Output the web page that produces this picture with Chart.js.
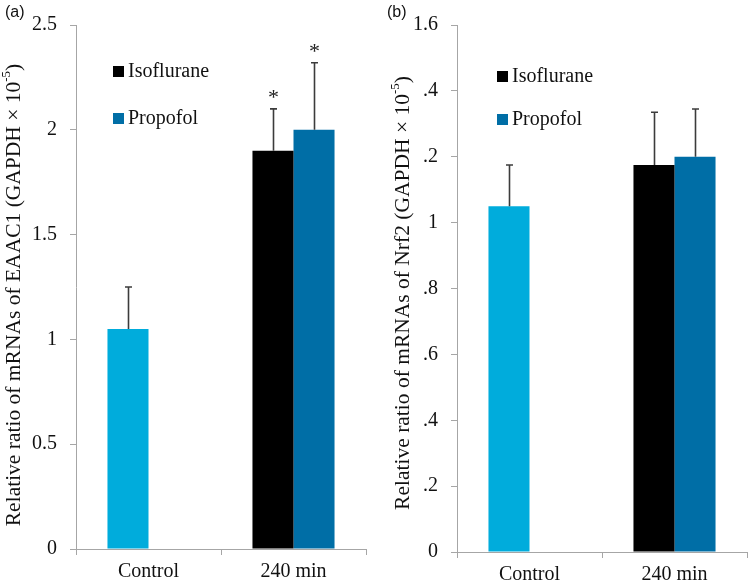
<!DOCTYPE html>
<html><head><meta charset="utf-8">
<script src="https://cdn.jsdelivr.net/npm/chart.js@4"></script>
<style>
html,body{margin:0;padding:0;background:#fff;}
#wrap{position:relative;width:750px;height:583px;overflow:hidden;background:#fff;}
.panel{position:absolute;top:0;width:375px;height:583px;}
canvas{display:block;}
</style></head><body>
<div id="wrap">
<div class="panel" style="left:0"><canvas id="ca" width="375" height="583"></canvas></div>
<div class="panel" style="left:375px"><canvas id="cb" width="375" height="583"></canvas></div>
</div>
<script>
// ---------- DATA ----------
const categories = ['Control', '240 min'];
const seriesNames = ['Control', 'Isoflurane', 'Propofol'];
const legendNames = ['Isoflurane', 'Propofol'];
const panelLetters = ['(a)', '(b)'];

// Panel (a): EAAC1
const eaacControl = [1.05, null];
const eaacIsoflurane = [null, 1.90];
const eaacPropofol = [null, 2.00];
const eaacControlErr = [0.20, null];
const eaacIsofluraneErr = [null, 0.20];
const eaacPropofolErr = [null, 0.32];
const eaacIsofluraneSig = [false, true];
const eaacPropofolSig = [false, true];
const eaacTickValues = [0, 0.5, 1, 1.5, 2, 2.5];
const eaacTickLabels = ['0', '0.5', '1', '1.5', '2', '2.5'];
const eaacTitle = ['Relative ratio of mRNAs of EAAC1 (GAPDH \u00d7 10', '-5', ')'];

// Panel (b): Nrf2
const nrfControl = [1.05, null];
const nrfIsoflurane = [null, 1.175];
const nrfPropofol = [null, 1.20];
const nrfControlErr = [0.125, null];
const nrfIsofluraneErr = [null, 0.16];
const nrfPropofolErr = [null, 0.145];
const nrfIsofluraneSig = [false, false];
const nrfPropofolSig = [false, false];
const nrfTickValues = [0, 0.2, 0.4, 0.6, 0.8, 1, 1.2, 1.4, 1.6];
const nrfTickLabels = ['0', '.2', '.4', '.6', '.8', '1', '.2', '.4', '1.6'];
const nrfTitle = ['Relative ratio of mRNAs of Nrf2 (GAPDH \u00d7 10', '-5', ')'];

// ---------- STYLE ----------
const COL_CONTROL = '#00acdc';
const COL_ISO = '#000000';
const COL_PRO = '#006ea6';
const AXIS_COL = '#a6a6a6';
const SERIF = '"Liberation Serif", "Times New Roman", serif';

function makeChart(canvasId, cfg) {
  const errPlugin = {
    id: 'errbars',
    afterDatasetsDraw(chart) {
      const ctx = chart.ctx;
      const y = chart.scales.y;
      ctx.save();
      ctx.strokeStyle = '#3c3c3c';
      ctx.lineWidth = 1.6;
      chart.data.datasets.forEach((ds, di) => {
        const meta = chart.getDatasetMeta(di);
        ds.data.forEach((v, i) => {
          if (v == null || ds.err[i] == null) return;
          const el = meta.data[i];
          const top = y.getPixelForValue(v + ds.err[i]);
          const x = Math.round(el.x) + 0.5;
          ctx.beginPath();
          ctx.moveTo(x, el.y);
          ctx.lineTo(x, top);
          ctx.moveTo(x - 3.5, top);
          ctx.lineTo(x + 3.5, top);
          ctx.stroke();
          if (ds.sig && ds.sig[i]) {
            ctx.fillStyle = '#222';
            ctx.font = '22px ' + SERIF;
            ctx.textAlign = 'center';
            ctx.textBaseline = 'alphabetic';
            ctx.fillText('*', x, top - 5);
          }
        });
      });
      ctx.restore();
    }
  };
  const decoPlugin = {
    id: 'deco',
    afterDraw(chart) {
      const ctx = chart.ctx;
      ctx.save();
      // panel letter
      ctx.fillStyle = '#111';
      ctx.font = '16px "Liberation Sans", Arial, sans-serif';
      ctx.textAlign = 'left';
      ctx.textBaseline = 'alphabetic';
      ctx.fillText(cfg.letter, cfg.letterX, 17);
      // legend
      const items = chart.data.datasets.filter(d => legendNames.includes(d.label));
      items.forEach((d, k) => {
        const sy = cfg.legY[k];
        ctx.fillStyle = d.backgroundColor;
        ctx.fillRect(cfg.legX, sy, 11, 11);
        ctx.fillStyle = '#111';
        ctx.font = '20px ' + SERIF;
        ctx.textAlign = 'left';
        ctx.textBaseline = 'alphabetic';
        ctx.fillText(d.label, cfg.legX + 15, sy + 11);
      });
      // y title with superscript
      const [main, sup, tail] = cfg.title;
      const mainFont = '21.5px ' + SERIF;
      const supFont = '13px ' + SERIF;
      ctx.font = mainFont;
      const w1 = ctx.measureText(main).width;
      const w3 = ctx.measureText(tail).width;
      ctx.font = supFont;
      const w2 = ctx.measureText(sup).width;
      const total = w1 + w2 + w3;
      ctx.translate(cfg.titleX, cfg.titleY);
      ctx.rotate(-Math.PI / 2);
      ctx.fillStyle = '#111';
      ctx.textAlign = 'left';
      ctx.textBaseline = 'middle';
      let x0 = -total / 2;
      ctx.font = mainFont;
      ctx.fillText(main, x0, 0);
      ctx.font = supFont;
      ctx.fillText(sup, x0 + w1, -7);
      ctx.font = mainFont;
      ctx.fillText(tail, x0 + w1 + w2, 0);
      ctx.restore();
    }
  };
  return new Chart(document.getElementById(canvasId), {
    type: 'bar',
    data: {
      labels: categories,
      datasets: [
        { label: seriesNames[0], data: cfg.control, err: cfg.controlErr, backgroundColor: COL_CONTROL, stack: 's1' },
        { label: seriesNames[1], data: cfg.iso, err: cfg.isoErr, sig: cfg.isoSig, backgroundColor: COL_ISO, stack: 's1' },
        { label: seriesNames[2], data: cfg.pro, err: cfg.proErr, sig: cfg.proSig, backgroundColor: COL_PRO, stack: 's2' }
      ]
    },
    options: {
      responsive: false,
      animation: false,
      devicePixelRatio: 1,
      categoryPercentage: 0.566,
      barPercentage: 1.0,
      layout: { padding: { left: 0, right: cfg.padRight, top: cfg.padTop, bottom: 0 } },
      plugins: { legend: { display: false }, tooltip: { enabled: false }, title: { display: false } },
      scales: {
        x: {
          grid: { display: true, drawOnChartArea: false, drawTicks: true, tickLength: 6, color: AXIS_COL, offset: true },
          border: { display: true, color: AXIS_COL, width: 1 },
          ticks: { color: '#111', font: { family: SERIF, size: 20 }, padding: 5 },
          afterFit(s) { s.height = cfg.xHeight; }
        },
        y: {
          stacked: false,
          min: 0,
          max: cfg.tickValues[cfg.tickValues.length - 1],
          afterBuildTicks(s) { s.ticks = cfg.tickValues.map(v => ({ value: v })); },
          grid: { display: true, drawOnChartArea: false, drawTicks: true, tickLength: 6, color: AXIS_COL },
          border: { display: true, color: AXIS_COL, width: 1 },
          ticks: {
            color: '#111', font: { family: SERIF, size: 20 }, padding: 13,
            callback(v) { const k = cfg.tickValues.findIndex(t => Math.abs(t - v) < 1e-9); return k >= 0 ? cfg.tickLabels[k] : ''; }
          },
          afterFit(s) { s.width = cfg.yWidth; }
        }
      }
    },
    plugins: [errPlugin, decoPlugin]
  });
}

makeChart('ca', {
  control: eaacControl, iso: eaacIsoflurane, pro: eaacPropofol,
  controlErr: eaacControlErr, isoErr: eaacIsofluraneErr, proErr: eaacPropofolErr,
  isoSig: eaacIsofluraneSig, proSig: eaacPropofolSig,
  tickValues: eaacTickValues, tickLabels: eaacTickLabels, title: eaacTitle,
  letter: panelLetters[0], letterX: 5,
  legX: 113, legY: [66, 113],
  titleX: 14, titleY: 295,
  yWidth: 76, xHeight: 34, padRight: 9, padTop: 25
});
makeChart('cb', {
  control: nrfControl, iso: nrfIsoflurane, pro: nrfPropofol,
  controlErr: nrfControlErr, isoErr: nrfIsofluraneErr, proErr: nrfPropofolErr,
  isoSig: nrfIsofluraneSig, proSig: nrfPropofolSig,
  tickValues: nrfTickValues, tickLabels: nrfTickLabels, title: nrfTitle,
  letter: panelLetters[1], letterX: 12,
  legX: 122, legY: [71, 114],
  titleX: 28, titleY: 293,
  yWidth: 82, xHeight: 31, padRight: 3, padTop: 24
});
</script>
</body></html>
